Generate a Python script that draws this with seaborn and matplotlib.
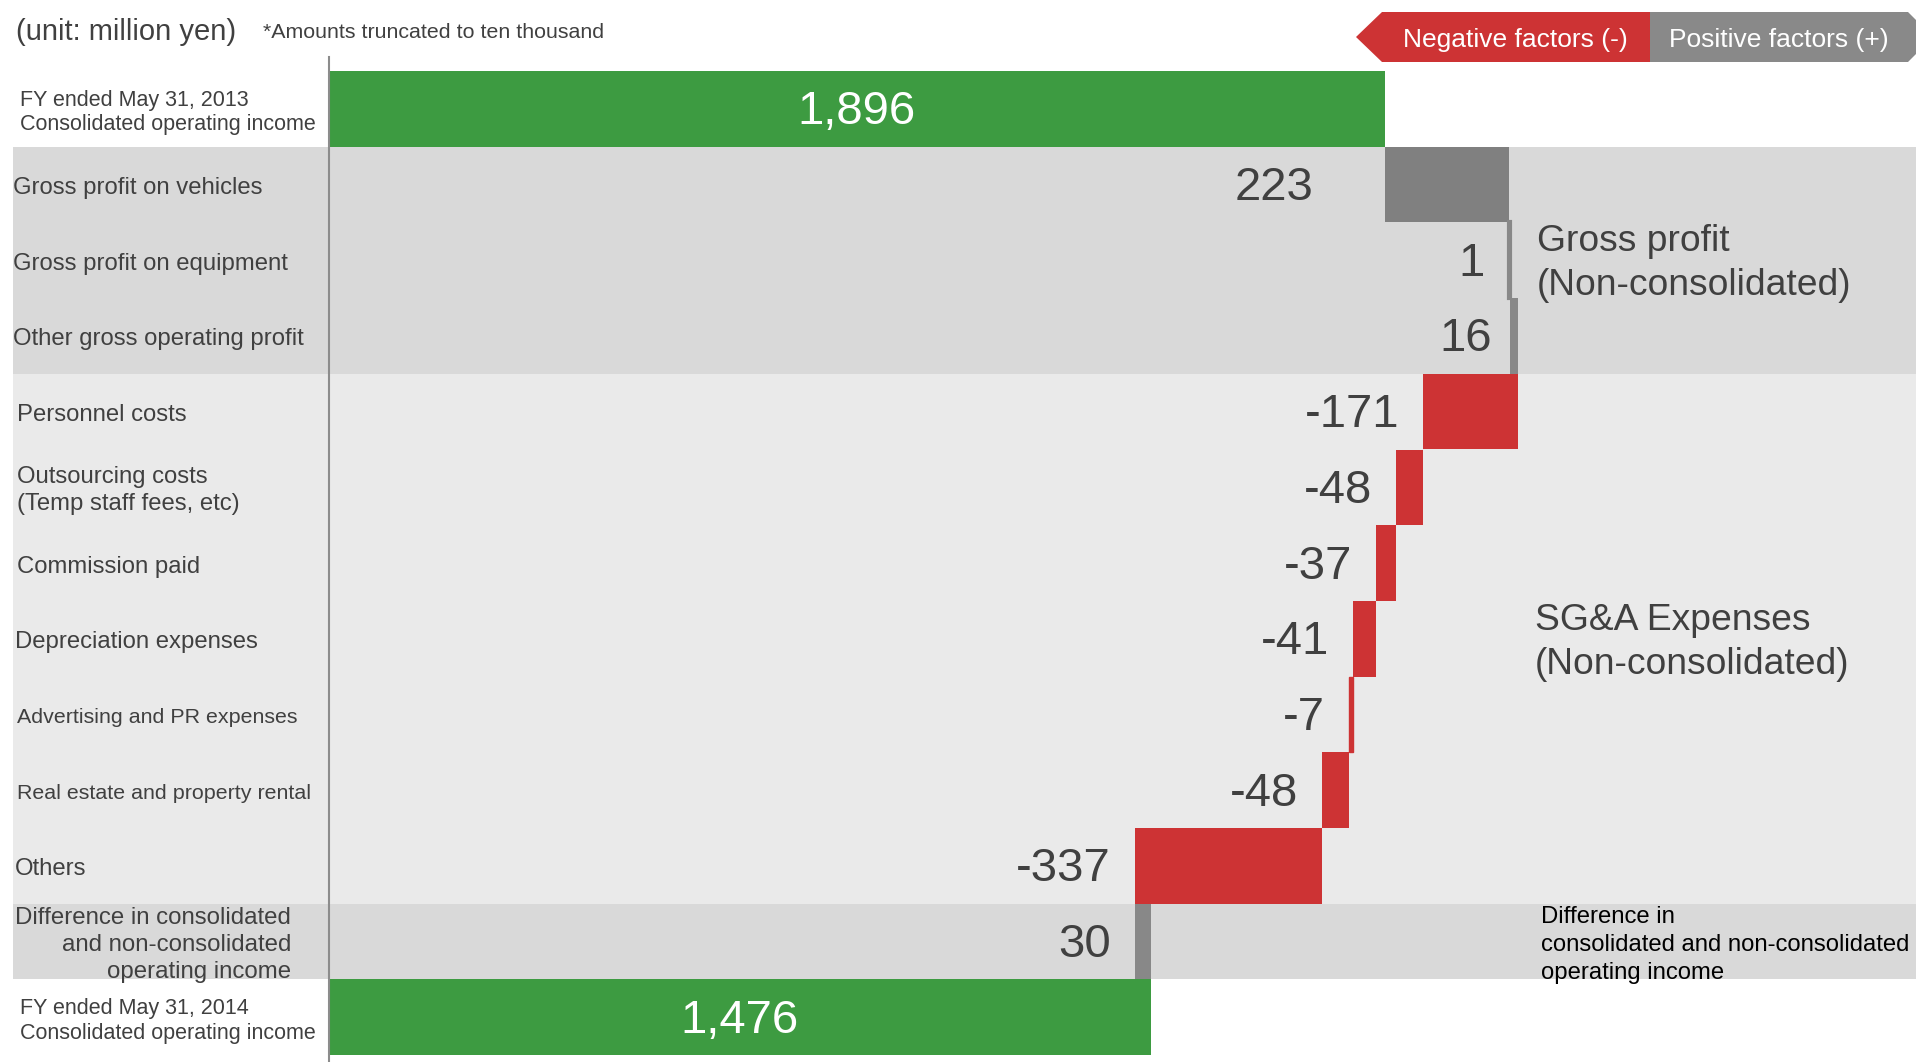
import numpy as np
import pandas as pd
import matplotlib
matplotlib.use("Agg")
import matplotlib.pyplot as plt
import matplotlib.transforms as mtrans
from matplotlib.patches import Polygon
import seaborn as sns

# ---------------- data ----------------
categories = [
    "FY2013", "Gross profit on vehicles", "Gross profit on equipment",
    "Other gross operating profit", "Personnel costs", "Outsourcing costs",
    "Commission paid", "Depreciation expenses", "Advertising and PR expenses",
    "Real estate and property rental", "Others", "Difference", "FY2014",
]
row_labels = [
    "FY ended May 31, 2013\nConsolidated operating income",
    "Gross profit on vehicles",
    "Gross profit on equipment",
    "Other gross operating profit",
    "Personnel costs",
    "Outsourcing costs\n(Temp staff fees, etc)",
    "Commission paid",
    "Depreciation expenses",
    "Advertising and PR expenses",
    "Real estate and property rental",
    "Others",
    "Difference in consolidated\nand non-consolidated\noperating income",
    "FY ended May 31, 2014\nConsolidated operating income",
]
values = [1896, 223, 1, 16, -171, -48, -37, -41, -7, -48, -337, 30, 1476]
kinds = ["total", "change", "change", "change", "change", "change", "change",
         "change", "change", "change", "change", "change", "total"]
section_labels = ["Gross profit\n(Non-consolidated)",
                  "SG&A Expenses\n(Non-consolidated)",
                  "Difference in\nconsolidated and non-consolidated\noperating income"]
section_rows = [2, 7, 11]
legend_labels = ["Negative factors (-)", "Positive factors (+)"]
unit_text = "(unit: million yen)"
note_text = "*Amounts truncated to ten thousand"

# ---------------- waterfall geometry from values ----------------
lefts, widths = [], []
running = 0
for v, k in zip(values, kinds):
    if k == "total":
        lefts.append(0)
        widths.append(v)
        running = v
    else:
        lefts.append(running + min(v, 0))
        widths.append(abs(v))
        running += v

GREEN, RED, GRAY, GRAY2 = "#3D9B41", "#CD3334", "#808080", "#888888"
colors = []
for v, k in zip(values, kinds):
    if k == "total":
        colors.append(GREEN)
    elif v < 0:
        colors.append(RED)
    else:
        colors.append(GRAY if v > 100 else GRAY2)
edge_lw = [3.0 if (k == "change" and abs(v) < 5) else (1.0 if (k == "change" and abs(v) < 10) else 0)
           for v, k in zip(values, kinds)]

df = pd.DataFrame({"category": categories, "width": widths})

# ---------------- figure ----------------
W, H = 1916, 1062
plt.rcParams["font.family"] = ["Liberation Sans", "DejaVu Sans"]
fig = plt.figure(figsize=(W / 100, H / 100), dpi=100)
ax = fig.add_axes([0, 0, 1, 1])

PX_PER_UNIT = 0.557
X0 = 328.7
ROW_TOP, ROW_H = 71.0, 75.7
DY = -3.5  # text baseline nudge (pixels)

# background bands
ax.axhspan(0.5, 3.5, xmin=13 / W, xmax=1, color="#D9D9D9", zorder=0, lw=0)
ax.axhspan(3.5, 10.5, xmin=13 / W, xmax=1, color="#EAEAEA", zorder=0, lw=0)
ax.axhspan(10.5, 11.5, xmin=13 / W, xmax=1, color="#D9D9D9", zorder=0, lw=0)

sns.barplot(data=df, x="width", y="category", order=categories, orient="y",
            left=np.array(lefts, dtype=float), width=1.0, errorbar=None,
            color=GRAY, saturation=1,
            facecolor=colors, edgecolor=colors, linewidth=edge_lw,
            ax=ax, zorder=2)

ax.set_xlim(-X0 / PX_PER_UNIT, (W - X0) / PX_PER_UNIT)
ax.set_ylim((H - ROW_TOP) / ROW_H - 0.5, -ROW_TOP / ROW_H - 0.5)
ax.set_axis_off()

# vertical axis line
ax.axvline(0, ymin=0, ymax=1 - 57 / H, color="#8C8C8C", lw=1.5, zorder=3)

TXT = "#404040"


def off(base, dx=0.0, dy=DY):
    return mtrans.offset_copy(base, fig=fig, x=dx, y=dy, units="dots")


ytrans = off(ax.get_yaxis_transform())

# row labels
label_x = [20, 13, 13, 13, 17, 17, 17, 15, 17, 17, 15, 291, 20]
label_size = [15.5, 17.2, 17.2, 17.2, 17.2, 17.2, 17.2, 17.2, 15.4, 15.4, 17.2, 17.3, 15.5]
label_ls = [1.23, 1.3, 1.3, 1.3, 1.3, 1.31, 1.3, 1.3, 1.3, 1.3, 1.3, 1.3, 1.23]
for i, lab in enumerate(row_labels):
    ha = "right" if i == 11 else "left"
    ax.text(label_x[i] / W, i, lab, transform=ytrans, ha=ha, va="center",
            ma=ha, fontsize=label_size[i], color=TXT, linespacing=label_ls[i])

# value labels
gaps = [0, 71, 24, 18, 24, 24, 24, 24, 24, 24, 24, 24, 0]
for i, (v, k) in enumerate(zip(values, kinds)):
    txt = f"{v:,}"
    if k == "total":
        ax.text(v / 2, i, txt, transform=off(ax.transData), ha="center",
                va="center", fontsize=34, color="white", zorder=4)
    else:
        ax.text(lefts[i], i, txt, transform=off(ax.transData, dx=-gaps[i]),
                ha="right", va="center", fontsize=34, color=TXT, zorder=4)

# section annotations
sec_x = [1537, 1535, 1541]
for j, (lab, r) in enumerate(zip(section_labels, section_rows)):
    if j < 2:
        ax.text(sec_x[j] / W, r, lab, transform=ytrans, ha="left", va="center",
                fontsize=26.8, color=TXT, linespacing=1.33)
    else:
        ax.text(sec_x[j] / W, r, lab, transform=ytrans, ha="left", va="center",
                fontsize=17.2, color="black", linespacing=1.34)

# header texts
ftrans = off(fig.transFigure)
fig.text(16 / W, 1 - 29 / H, unit_text, transform=ftrans, ha="left",
         va="center", fontsize=21, color=TXT)
fig.text(263 / W, 1 - 29 / H, note_text, transform=ftrans, ha="left",
         va="center", fontsize=15.4, color=TXT)

# legend arrows
def px(pts):
    return [(x / W, 1 - y / H) for x, y in pts]

red_poly = Polygon(px([(1356, 37), (1382, 12), (1650, 12), (1650, 62), (1382, 62)]),
                   closed=True, transform=fig.transFigure, facecolor="#CD3334",
                   edgecolor="none")
gray_poly = Polygon(px([(1650, 12), (1908, 12), (1933, 37), (1908, 62), (1650, 62)]),
                    closed=True, transform=fig.transFigure, facecolor="#898989",
                    edgecolor="none")
fig.patches.extend([red_poly, gray_poly])
fig.text(1515 / W, 1 - 37 / H, legend_labels[0], transform=ftrans, ha="center",
         va="center", fontsize=19, color="white")
fig.text(1779 / W, 1 - 37 / H, legend_labels[1], transform=ftrans, ha="center",
         va="center", fontsize=19, color="white")

fig.savefig("out.png", dpi=100)
